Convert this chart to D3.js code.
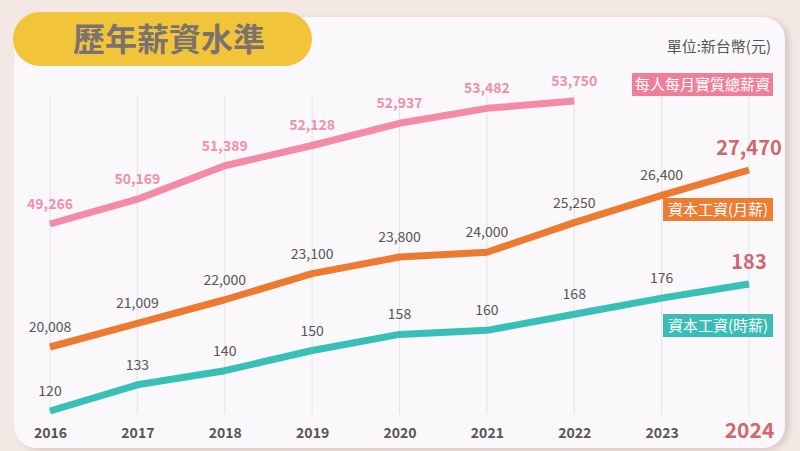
<!DOCTYPE html>
<html>
<head>
<meta charset="utf-8">
<script src="https://cdn.jsdelivr.net/npm/d3@7"></script>
<style>
  body { margin: 0; background: #f4e8e4; }
  svg { display: block; font-family: "Noto Sans CJK TC", "Noto Sans", sans-serif; }
</style>
</head>
<body>
<div id="chart"></div>
<script>
const years = ["2016", "2017", "2018", "2019", "2020", "2021", "2022", "2023", "2024"];
const realTotalWage = [49266, 50169, 51389, 52128, 52937, 53482, 53750];
const minMonthly = [20008, 21009, 22000, 23100, 23800, 24000, 25250, 26400, 27470];
const minHourly = [120, 133, 140, 150, 158, 160, 168, 176, 183];

const width = 800, height = 451;

const svg = d3.select("#chart")
    .append("svg")
    .attr("width", width)
    .attr("height", height);

// shadow for the panel
const defs = svg.append("defs");
const f = defs.append("filter").attr("id", "sh").attr("x", "-5%").attr("y", "-5%").attr("width", "115%").attr("height", "115%");
f.append("feDropShadow").attr("dx", 4).attr("dy", 2).attr("stdDeviation", 3)
    .attr("flood-color", "#b9a6a3").attr("flood-opacity", 0.5);

svg.append("rect")
    .attr("width", width).attr("height", height)
    .attr("fill", "#f4e8e4");

svg.append("rect")
    .attr("x", 14).attr("y", 17)
    .attr("width", 771).attr("height", 431)
    .attr("rx", 22)
    .attr("fill", "#faf8fa")
    .attr("filter", "url(#sh)");

// title pill
svg.append("rect")
    .attr("x", 13).attr("y", 12)
    .attr("width", 299).attr("height", 54)
    .attr("rx", 27)
    .attr("fill", "#f2c43a");

svg.append("text")
    .attr("x", 169).attr("y", 51)
    .attr("text-anchor", "middle")
    .attr("font-size", 32)
    .attr("font-weight", 700)
    .attr("fill", "#7a7270")
    .text("歷年薪資水準");

svg.append("text")
    .attr("x", 771).attr("y", 52)
    .attr("text-anchor", "end")
    .attr("font-size", 15)
    .attr("fill", "#555")
    .text("單位:新台幣(元)");

const x = d3.scalePoint()
    .domain(years)
    .range([50, 749]);

// each series sits on its own vertical scale
const yPink = d3.scaleLinear().domain([49266, 53750]).range([224, 101]);
const yOrange = d3.scaleLinear().domain([20008, 27470]).range([347, 170]);
const yTeal = d3.scaleLinear().domain([120, 183]).range([411, 284]);

// grid
svg.append("g")
    .selectAll("line")
    .data(years)
    .join("line")
    .attr("x1", d => x(d)).attr("x2", d => x(d))
    .attr("y1", 95).attr("y2", 414)
    .attr("stroke", "#e6e2e6")
    .attr("stroke-width", 1);

// year axis
const xAxis = svg.append("g")
    .attr("transform", "translate(0,438)")
    .call(d3.axisBottom(x).tickSize(0).tickPadding(0));
xAxis.select(".domain").remove();
xAxis.selectAll("text")
    .attr("dy", 0)
    .attr("font-family", "'Noto Sans CJK TC', sans-serif")
    .attr("font-size", d => d === "2024" ? 21 : 14)
    .attr("font-weight", 700)
    .attr("fill", d => d === "2024" ? "#d2686c" : "#555");

const series = [
    { values: realTotalWage, y: yPink, color: "#f38aa6", labelColor: "#ef8fa9", bold: true },
    { values: minMonthly, y: yOrange, color: "#ec7a30", labelColor: "#555", bold: false },
    { values: minHourly, y: yTeal, color: "#37bfb8", labelColor: "#555", bold: false }
];

const fmt = d3.format(",");

series.forEach(s => {
    const pts = s.values.map((v, i) => ({ year: years[i], v }));
    const line = d3.line()
        .x(d => x(d.year))
        .y(d => s.y(d.v));

    svg.append("path")
        .datum(pts)
        .attr("d", line)
        .attr("fill", "none")
        .attr("stroke", s.color)
        .attr("stroke-width", 7)
        .attr("stroke-linejoin", "round");

    svg.append("g")
        .selectAll("text")
        .data(pts)
        .join("text")
        .attr("x", d => x(d.year))
        .attr("y", d => s.y(d.v) - 15)
        .attr("text-anchor", "middle")
        .attr("font-size", d => d.year === "2024" ? 20 : 14)
        .attr("font-weight", d => (d.year === "2024" || s.bold) ? 700 : 400)
        .attr("fill", d => d.year === "2024" ? "#cf6670" : s.labelColor)
        .text(d => fmt(d.v));
});

// legend tags
const tags = [
    { label: "每人每月實質總薪資", x: 632, y: 73, w: 141, color: "#ef7f98" },
    { label: "資本工資(月薪)", x: 663, y: 198, w: 110, color: "#ec7d33" },
    { label: "資本工資(時薪)", x: 663, y: 314, w: 110, color: "#3bbdb5" }
];

tags.forEach(t => {
    svg.append("rect")
        .attr("x", t.x).attr("y", t.y)
        .attr("width", t.w).attr("height", 23)
        .attr("fill", t.color);
    svg.append("text")
        .attr("x", t.x + t.w / 2).attr("y", t.y + 17)
        .attr("text-anchor", "middle")
        .attr("font-size", 15)
        .attr("fill", "#fff")
        .text(t.label);
});
</script>
</body>
</html>
